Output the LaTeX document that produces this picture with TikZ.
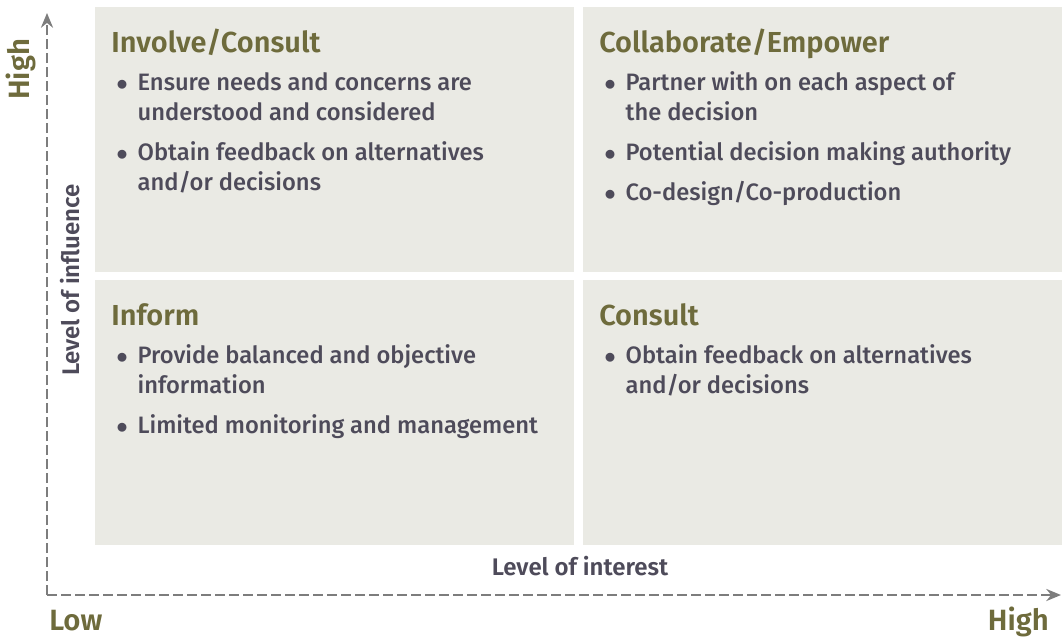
\documentclass[tikz,border=0pt]{standalone}
\usepackage{fontspec}
\setmainfont{Fira Sans}[UprightFont=* Medium, BoldFont=* SemiBold]
\usetikzlibrary{arrows.meta}
\definecolor{quadfill}{HTML}{EAEAE4}
\definecolor{headcol}{HTML}{6E6B3C}
\definecolor{bodycol}{HTML}{4E4B5A}
\definecolor{axiscol}{HTML}{7D7D7D}
\newcommand{\bul}{\makebox[16pt][l]{$\bullet$}}
\newcommand{\ind}{\hspace*{16pt}}
\tikzset{
   quad/.style={fill=quadfill},
   heading/.style={anchor=base west, inner sep=0pt, text=headcol,
      font=\fontsize{21.7}{24}\selectfont\bfseries},
   body/.style={anchor=base west, inner sep=0pt, text=bodycol,
      font=\fontsize{17.8}{22.5}\selectfont},
   axis/.style={draw=axiscol, line width=2.2pt, dash pattern=on 7.5pt off 3pt,
      -{Stealth[length=11pt, width=9pt]}},
   axislabel/.style={inner sep=0pt, text=bodycol,
      font=\fontsize{18}{20}\selectfont\bfseries},
   endlabel/.style={inner sep=0pt, text=headcol,
      font=\fontsize{22}{24}\selectfont\bfseries}
}
\begin{document}
\begin{tikzpicture}[x=0.75pt, y=-0.75pt]
   \useasboundingbox (0, 0) rectangle (1063, 636);
   \def\dx{488}
   \def\dy{273}
   \begin{scope}
      \foreach \i in {0, 1} {
         \foreach \j in {0, 1} {
            \fill[quad] (95 + \i*\dx, 7 + \j*\dy) rectangle (574 + \i*\dx, 272 + \j*\dy);
         }
      }
      \node[heading] (involve) at (111, 52) {Involve/Consult};
      \node[body] (involvetext) at (116, 90) {\begin{tabular}[t]{@{}l@{}}
         \bul Ensure needs and concerns are\\
         \ind understood and considered\\[7.5pt]
         \bul Obtain feedback on alternatives\\
         \ind and/or decisions
      \end{tabular}};
      \node[heading] (collab) at (111 + \dx, 52) {Collaborate/Empower};
      \node[body] (collabtext) at (116 + \dx, 90) {\begin{tabular}[t]{@{}l@{}}
         \bul Partner with on each aspect of\\
         \ind the decision\\[7.5pt]
         \bul Potential decision making authority\\[7.5pt]
         \bul Co-design/Co-production
      \end{tabular}};
      \node[heading] (inform) at (111, 52 + \dy) {Inform};
      \node[body] (informtext) at (116, 90 + \dy) {\begin{tabular}[t]{@{}l@{}}
         \bul Provide balanced and objective\\
         \ind information\\[7.5pt]
         \bul Limited monitoring and management
      \end{tabular}};
      \node[heading] (consult) at (111 + \dx, 52 + \dy) {Consult};
      \node[body] (consulttext) at (116 + \dx, 90 + \dy) {\begin{tabular}[t]{@{}l@{}}
         \bul Obtain feedback on alternatives\\
         \ind and/or decisions
      \end{tabular}};
   \end{scope}
   \coordinate (origin) at (47, 595);
   \coordinate (ytip) at (47, 13);
   \coordinate (xtip) at (1061, 595);
   \draw[axis] (origin) -- (ytip);
   \draw[axis] (origin) -- (xtip);
   \node[endlabel, rotate=90, anchor=base west] (yhigh) at (29, 100) {High};
   \node[endlabel, anchor=base west] (xlow) at (49, 630) {Low};
   \node[endlabel, anchor=base east] (xhigh) at (1049, 630) {High};
   \node[axislabel, rotate=90, anchor=base] (influence) at (79, 280) {Level of influence};
   \node[axislabel, anchor=base] (interest) at (580, 575) {Level of interest};
\end{tikzpicture}
\end{document}
